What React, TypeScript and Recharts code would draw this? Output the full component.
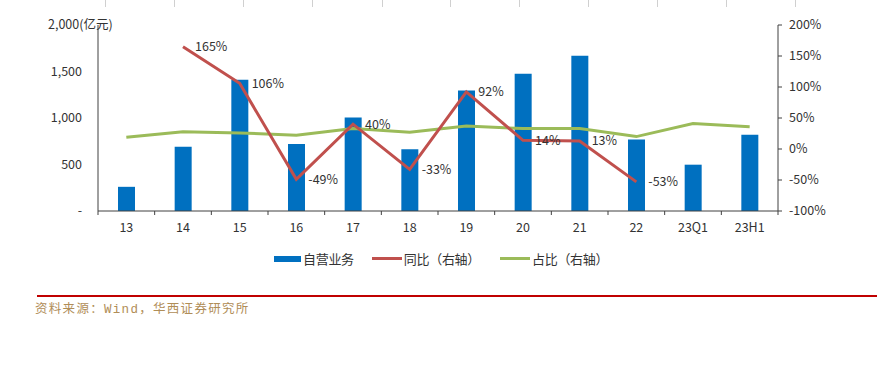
import { ComposedChart, Bar, Line, XAxis, YAxis, LabelList } from 'recharts'

const categories = ['13', '14', '15', '16', '17', '18', '19', '20', '21', '22', '23Q1', '23H1']
const proprietary = [260, 690, 1410, 720, 1005, 665, 1295, 1475, 1670, 770, 498, 820]
const yoy = [null, 165, 106, -49, 40, -33, 92, 14, 13, -53, null, null]
const share = [19, 28, 26, 22, 33, 27, 37, 33, 33, 20, 41, 36]
const leftTicks = [0, 500, 1000, 1500, 2000]
const rightTicks = [-100, -50, 0, 50, 100, 150, 200]

const data = categories.map((c, i) => ({ cat: c, bar: proprietary[i], yoy: yoy[i], share: share[i] }))

const FONT = '"Noto Sans CJK SC", "Noto Sans", sans-serif'
const AXIS = '#404040'
const TEXT = '#333'
const PLOT_W = 680
const BAND = PLOT_W / categories.length

/* ── Left axis tick: unit on top, dash for zero ───────── */
function LeftTick({ x, y, payload }: any) {
  const v = payload.value
  if (v === 2000) {
    return (
      <text x={48} y={y} dy="0.35em" textAnchor="start" fontSize={12.5} fill={TEXT} fontFamily={FONT}>
        2,000(亿元)
      </text>
    )
  }
  return (
    <text x={x} y={y} dy="0.35em" textAnchor="end" fontSize={12.5} fill={TEXT} fontFamily={FONT}>
      {v === 0 ? '-' : v.toLocaleString('en-US')}
    </text>
  )
}

/* ── X tick: tick marks on band edges ─────────────────── */
function XTick({ x, y, payload, index }: any) {
  const axisY = y - 12
  const left = x - BAND / 2
  return (
    <g>
      <line x1={left} x2={left} y1={axisY} y2={axisY + 4} stroke={AXIS} />
      {index === categories.length - 1 && (
        <line x1={x + BAND / 2} x2={x + BAND / 2} y1={axisY} y2={axisY + 4} stroke={AXIS} />
      )}
      <text x={x} y={y} dy="0.71em" textAnchor="middle" fontSize={12.5} fill={TEXT} fontFamily={FONT}>
        {payload.value}
      </text>
    </g>
  )
}

const legendItems = [
  { name: '自营业务', color: '#0070C0', kind: 'rect' },
  { name: '同比（右轴）', color: '#C0504D', kind: 'line' },
  { name: '占比（右轴）', color: '#9BBB59', kind: 'line' },
]

const topMarks = [105, 174, 243, 312, 382, 450, 519, 588, 657, 726, 795]

export default function App() {
  return (
    <div style={{ position: 'absolute', left: 0, top: 0, width: 877, height: 367, background: '#fff', fontFamily: FONT }}>
      {topMarks.map((x) => (
        <div key={x} style={{ position: 'absolute', left: x, top: 0, width: 1, height: 7, background: '#d0d0d0' }} />
      ))}

      <ComposedChart width={877} height={245} data={data} margin={{ top: 25, right: 0, left: 0, bottom: 0 }}>
        <XAxis
          dataKey="cat"
          height={34}
          axisLine={{ stroke: AXIS }}
          tickLine={false}
          tickSize={4}
          tickMargin={8}
          interval={0}
          tick={<XTick />}
        />
        <YAxis
          yAxisId="left"
          width={98}
          domain={[0, 2000]}
          ticks={leftTicks}
          axisLine={{ stroke: AXIS }}
          tickLine={false}
          tickSize={0}
          tickMargin={16}
          tick={<LeftTick />}
        />
        <YAxis
          yAxisId="right"
          orientation="right"
          width={99}
          domain={[-100, 200]}
          ticks={rightTicks}
          axisLine={{ stroke: AXIS }}
          tickLine={{ stroke: AXIS }}
          tickSize={4}
          tickMargin={7}
          tickFormatter={(v: number) => `${v}%`}
          tick={{ fontSize: 12.5, fill: TEXT, fontFamily: FONT }}
        />
        <Bar yAxisId="left" dataKey="bar" fill="#0070C0" barSize={17} isAnimationActive={false} />
        <Line
          yAxisId="right"
          type="linear"
          dataKey="share"
          stroke="#9BBB59"
          strokeWidth={3}
          dot={false}
          isAnimationActive={false}
        />
        <Line
          yAxisId="right"
          type="linear"
          dataKey="yoy"
          stroke="#C0504D"
          strokeWidth={3}
          dot={false}
          isAnimationActive={false}
        >
          <LabelList
            dataKey="yoy"
            position="right"
            offset={12}
            formatter={(v: any) => (v == null ? '' : `${v}%`)}
            style={{ fontSize: 12.5, fill: TEXT, fontFamily: FONT }}
          />
        </Line>
      </ComposedChart>

      <div style={{ position: 'absolute', left: 274, top: 249, display: 'flex', alignItems: 'center', fontSize: 13, color: TEXT }}>
        {legendItems.map((it, i) => (
          <div key={it.name} style={{ display: 'flex', alignItems: 'center', marginRight: i === 0 ? 18 : 20 }}>
            <div
              style={{
                width: it.kind === 'rect' ? 27 : 30,
                height: it.kind === 'rect' ? 6 : 3,
                background: it.color,
                marginRight: 2,
              }}
            />
            <span style={{ letterSpacing: -0.3 }}>{it.name}</span>
          </div>
        ))}
      </div>

      <div style={{ position: 'absolute', left: 37, top: 295, width: 840, height: 2, background: '#C00000' }} />
      <div
        style={{
          position: 'absolute',
          left: 35,
          top: 298,
          fontSize: 12.5,
          color: '#B08D57',
          fontFamily: '"Liberation Mono", "Noto Sans CJK SC", monospace',
          letterSpacing: 1.3,
          whiteSpace: 'nowrap',
        }}
      >
        资料来源：Wind，华西证券研究所
      </div>
    </div>
  )
}
